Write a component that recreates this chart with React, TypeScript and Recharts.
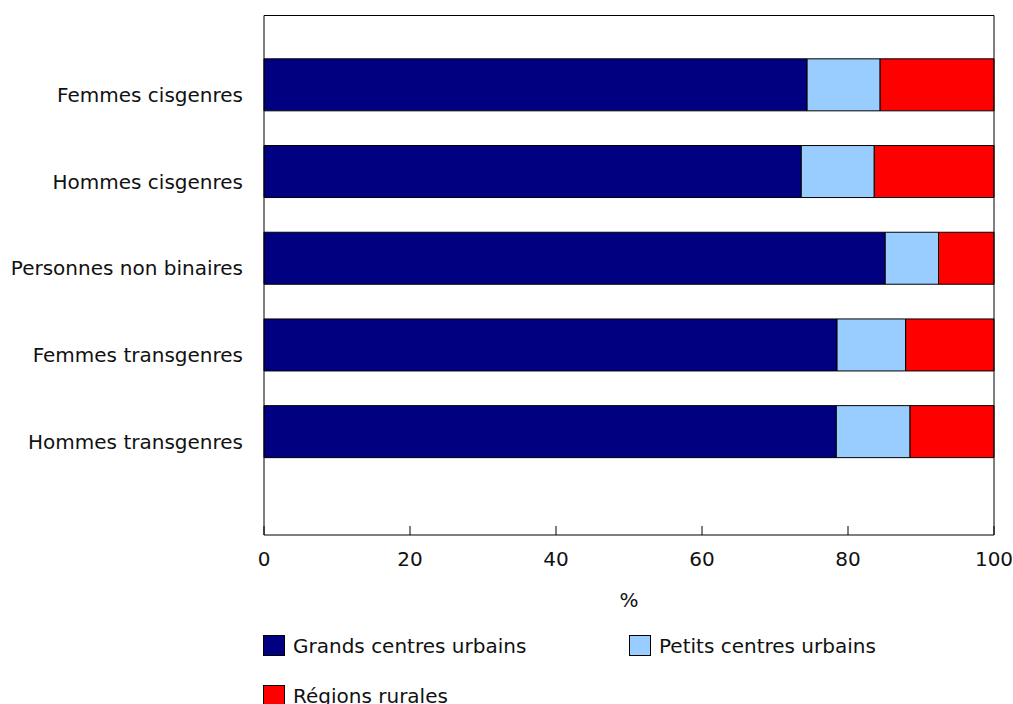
import { BarChart, Bar, XAxis, YAxis } from 'recharts';

const FONT = '"DejaVu Sans", Verdana, sans-serif';
const FS = 20;

const categories = [
  'Femmes cisgenres',
  'Hommes cisgenres',
  'Personnes non binaires',
  'Femmes transgenres',
  'Hommes transgenres',
];
const grandsCentres = [74.4, 73.6, 85.1, 78.5, 78.4];
const petitsCentres = [10.0, 10.0, 7.3, 9.4, 10.1];
const regionsRurales = [15.6, 16.4, 7.6, 12.1, 11.5];
const xTicks = [0, 20, 40, 60, 80, 100];

const SERIES = [
  { key: 'grands', name: 'Grands centres urbains', color: '#000080' },
  { key: 'petits', name: 'Petits centres urbains', color: '#99CCFF' },
  { key: 'rurales', name: 'Régions rurales', color: '#FF0000' },
];

const data = categories.map((name, i) => ({
  name,
  grands: grandsCentres[i],
  petits: petitsCentres[i],
  rurales: regionsRurales[i],
}));

function CategoryTick({ x, y, payload }: any) {
  return (
    <text x={x} y={y} dy={17} textAnchor="end" fill="#111" fontSize={FS} fontFamily={FONT}>
      {payload.value}
    </text>
  );
}

export default function App() {
  return (
    <div style={{ position: 'absolute', left: 0, top: 0, width: 1013, height: 704, overflow: 'hidden', background: '#fff' }}>
      <BarChart
        width={1013}
        height={704}
        data={data}
        layout="vertical"
        barCategoryGap="20%"
        margin={{ top: 14.5, right: 18, bottom: 89, left: 0 }}
      >
        <XAxis
          type="number"
          domain={[0, 100]}
          ticks={xTicks}
          height={80}
          stroke="#000"
          tickSize={-9}
          tickMargin={26}
          tick={{ fill: '#111', fontSize: FS, fontFamily: FONT }}
          label={{ value: '%', position: 'insideBottom', offset: 8, fill: '#111', fontSize: FS, fontFamily: FONT }}
        />
        <XAxis xAxisId="top" orientation="top" type="number" domain={[0, 100]} height={1} tick={false} tickLine={false} stroke="#000" />
        <YAxis
          type="category"
          dataKey="name"
          width={264}
          stroke="#000"
          tickLine={false}
          tickSize={0}
          tickMargin={21}
          padding={{ top: 26, bottom: 60 }}
          tick={<CategoryTick />}
        />
        <YAxis yAxisId="right" orientation="right" width={1} tick={false} tickLine={false} stroke="#000" />
        {SERIES.map((s) => (
          <Bar
            key={s.key}
            dataKey={s.key}
            name={s.name}
            stackId="a"
            fill={s.color}
            stroke="#000"
            strokeWidth={1}
            isAnimationActive={false}
          />
        ))}
      </BarChart>
      <div
        style={{
          position: 'absolute',
          left: 263,
          top: 635,
          width: 740,
          display: 'grid',
          gridTemplateColumns: '366px 366px',
          rowGap: 29,
          fontFamily: FONT,
          fontSize: FS,
          color: '#111',
        }}
      >
        {SERIES.map((s) => (
          <div key={s.key} style={{ display: 'flex', alignItems: 'center', height: 21, whiteSpace: 'nowrap' }}>
            <span style={{ display: 'inline-block', width: 20, height: 19, background: s.color, border: '1px solid #000', marginRight: 8 }} />
            {s.name}
          </div>
        ))}
      </div>
    </div>
  );
}
